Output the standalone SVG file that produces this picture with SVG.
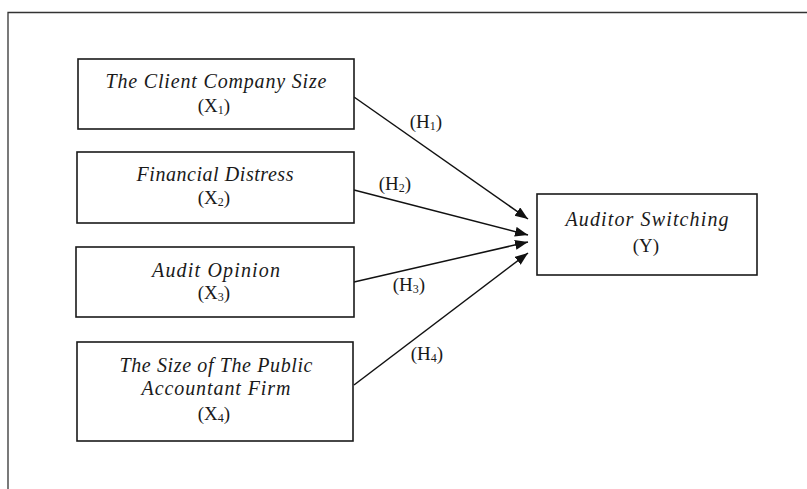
<svg xmlns="http://www.w3.org/2000/svg" width="807" height="489" viewBox="0 0 807 489">
<style>
.box{fill:#fff;stroke:#1a1a1a;stroke-width:1.6}
.frame{fill:none;stroke:#333;stroke-width:1.3}
.t{font-family:"Liberation Serif","Times New Roman",serif;font-size:19px;fill:#1a1a1a;text-anchor:middle}
.i{font-style:italic;font-size:20px}
.sub{font-size:12px}
.edge{fill:none;stroke:#111;stroke-width:1.5}
</style>
<defs>
<marker id="ah" markerUnits="userSpaceOnUse" markerWidth="14" markerHeight="12" refX="13" refY="5" orient="auto">
<path d="M0,0 L13,5 L0,10 Z" fill="#111"/>
</marker>
</defs>
<rect width="807" height="489" fill="#fff"/>
<path class="frame" d="M8,489 L8,12.5 L807,12.5"/>
<g id="connectors">
<path class="edge" d="M354,97 L528,219" marker-end="url(#ah)"/>
<path class="edge" d="M354,190 L528,235" marker-end="url(#ah)"/>
<path class="edge" d="M354,282 L528,242" marker-end="url(#ah)"/>
<path class="edge" d="M354,385 L528,253" marker-end="url(#ah)"/>
<text class="t" x="426" y="128">(H<tspan class="sub" dy="2">1</tspan><tspan dy="-2">)</tspan></text>
<text class="t" x="395" y="190">(H<tspan class="sub" dy="2">2</tspan><tspan dy="-2">)</tspan></text>
<text class="t" x="409" y="291">(H<tspan class="sub" dy="2">3</tspan><tspan dy="-2">)</tspan></text>
<text class="t" x="427" y="360">(H<tspan class="sub" dy="2">4</tspan><tspan dy="-2">)</tspan></text>
</g>
<g id="x1">
<rect class="box" x="78" y="59" width="276" height="70"/>
<text class="t i" x="216" y="88" textLength="221">The Client Company Size</text>
<text class="t" x="214" y="112">(X<tspan class="sub" dy="2">1</tspan><tspan dy="-2">)</tspan></text>
</g>
<g id="x2">
<rect class="box" x="77" y="152" width="277" height="71"/>
<text class="t i" x="215" y="181" textLength="157">Financial Distress</text>
<text class="t" x="214" y="204">(X<tspan class="sub" dy="2">2</tspan><tspan dy="-2">)</tspan></text>
</g>
<g id="x3">
<rect class="box" x="76" y="247" width="278" height="70"/>
<text class="t i" x="216" y="277" textLength="128">Audit Opinion</text>
<text class="t" x="214" y="299">(X<tspan class="sub" dy="2">3</tspan><tspan dy="-2">)</tspan></text>
</g>
<g id="x4">
<rect class="box" x="77" y="342" width="276" height="99"/>
<text class="t i" x="216" y="372" textLength="193">The Size of The Public</text>
<text class="t i" x="216" y="395" textLength="149">Accountant Firm</text>
<text class="t" x="214" y="420">(X<tspan class="sub" dy="2">4</tspan><tspan dy="-2">)</tspan></text>
</g>
<g id="y">
<rect class="box" x="537" y="194" width="220" height="81"/>
<text class="t i" x="647" y="226" textLength="163">Auditor Switching</text>
<text class="t" x="646" y="252">(Y)</text>
</g>
</svg>
